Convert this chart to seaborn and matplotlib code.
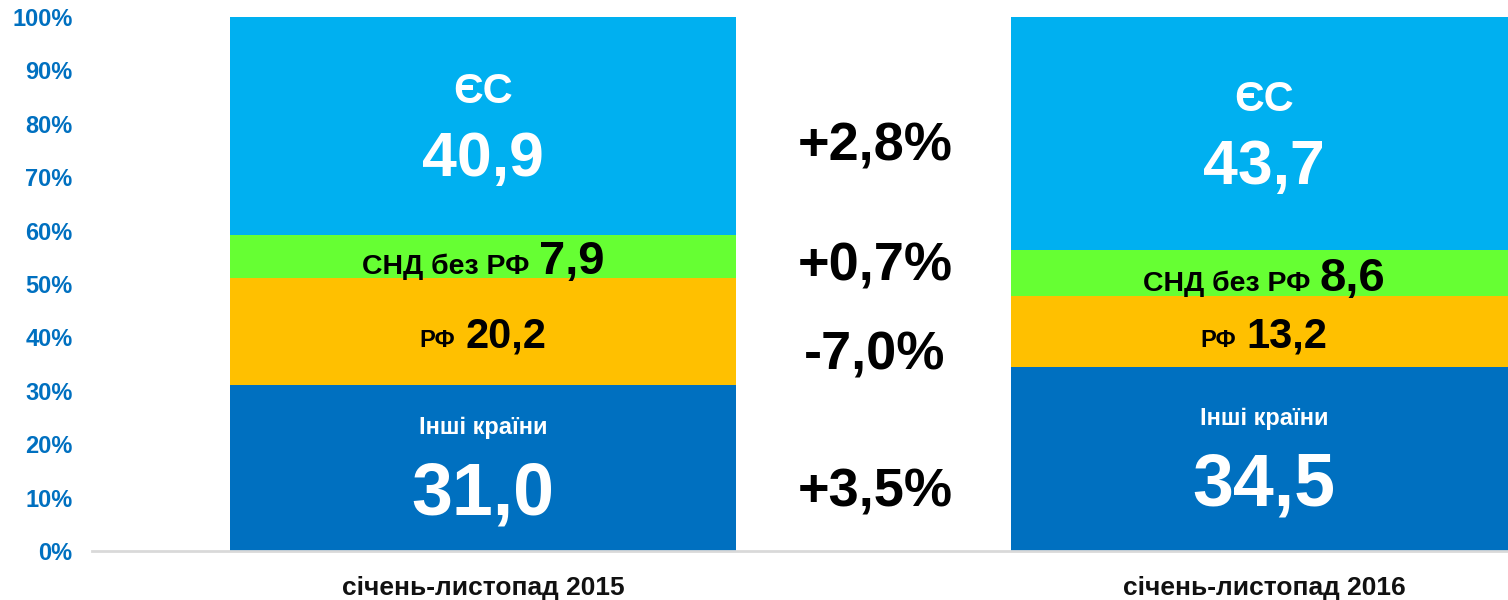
import numpy as np
import pandas as pd
import matplotlib
matplotlib.use("Agg")
import matplotlib.pyplot as plt
import seaborn as sns
from matplotlib.offsetbox import TextArea, HPacker, AnnotationBbox

# дані
periods = ["січень-листопад 2015", "січень-листопад 2016"]
inshi = [31.0, 34.5]
rf = [20.2, 13.2]
snd = [7.9, 8.6]
es = [40.9, 43.7]
changes = ["+3,5%", "-7,0%", "+0,7%", "+2,8%"]   # знизу вгору

c_inshi = "#0070C0"
c_rf = "#FFC000"
c_snd = "#66FF33"
c_es = "#00B0F0"

sns.set_style("white")
plt.rcParams["font.family"] = ["Liberation Sans", "DejaVu Sans"]
plt.rcParams["font.weight"] = "bold"

df = pd.DataFrame({"period": periods, "inshi": inshi, "rf": rf, "snd": snd, "es": es})
df["c1"] = df["inshi"]
df["c2"] = df["c1"] + df["rf"]
df["c3"] = df["c2"] + df["snd"]
df["c4"] = df["c3"] + df["es"]

fig = plt.figure(figsize=(15.08, 6), dpi=100)
ax = fig.add_axes([92 / 1508, 1 - 551 / 600, 1 - 92 / 1508, (551 - 17) / 600])

# накопичені бари, від верхнього до нижнього
w = 0.649
for col, color in [("c4", c_es), ("c3", c_snd), ("c2", c_rf), ("c1", c_inshi)]:
    sns.barplot(data=df, x="period", y=col, color=color, width=w, ax=ax,
                saturation=1, linewidth=0)

ax.set_xlim(-0.5006, 1.3124)
ax.set_ylim(0, 100)
ax.set_yticks(np.arange(0, 101, 10))
ax.set_yticklabels([f"{v}%" for v in range(0, 101, 10)])
ax.tick_params(axis="y", length=0, pad=14, labelsize=17, labelcolor="#0070C0")
ax.tick_params(axis="x", length=0, pad=18, labelsize=19, labelcolor="#111111")
for lbl in ax.get_yticklabels() + ax.get_xticklabels():
    lbl.set_fontweight("bold")
ax.set_xlabel("")
ax.set_ylabel("")
for s in ["top", "right", "left"]:
    ax.spines[s].set_visible(False)
ax.spines["bottom"].set_color("#d9d9d9")
ax.spines["bottom"].set_linewidth(2)
ax.spines["bottom"].set_clip_on(False)


def mixed(x, y, small, big, s1, s2, color):
    t1 = TextArea(small, textprops=dict(fontsize=s1, fontweight="bold", color=color))
    t2 = TextArea(big, textprops=dict(fontsize=s2, fontweight="bold", color=color))
    box = HPacker(children=[t1, t2], align="baseline", pad=0, sep=7)
    ab = AnnotationBbox(box, (x, y), frameon=False, box_alignment=(0.5, 0.5), pad=0)
    ax.add_artist(ab)


for i in range(len(periods)):
    r = df.iloc[i]
    # ЄС
    mid = (r.c3 + r.c4) / 2
    ax.text(i, mid + 6.4, "ЄС", ha="center", va="center", fontsize=30, color="white")
    ax.text(i, mid - 6.3, f"{r.es:.1f}".replace(".", ","), ha="center", va="center",
            fontsize=45, color="white")
    # СНД без РФ
    mixed(i, (r.c2 + r.c3) / 2 - 1.0, "СНД без РФ", f"{r.snd:.1f}".replace(".", ","), 20.5, 34, "black")
    # РФ
    mixed(i, (r.c1 + r.c2) / 2 - 0.9, "РФ", f"{r.rf:.1f}".replace(".", ","), 17, 30, "black")
    # Інші країни
    mid = r.c1 / 2
    ax.text(i, mid + 7.6, "Інші країни", ha="center", va="center", fontsize=17, color="white")
    ax.text(i, mid - 5.0, f"{r.inshi:.1f}".replace(".", ","), ha="center", va="center",
            fontsize=53, color="white")

# зміни між роками
ch_y = [10.9, 36.7, 53.2, 75.7]
for txt, y in zip(changes, ch_y):
    ax.text(0.502, y, txt, ha="center", va="center", fontsize=39, color="black")

fig.savefig("out.png", dpi=100)
